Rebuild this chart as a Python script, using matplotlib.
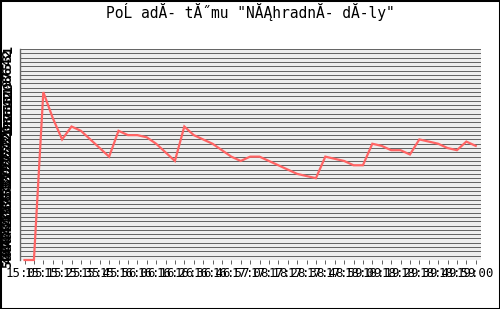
import matplotlib
matplotlib.use("Agg")
import matplotlib.pyplot as plt
from matplotlib.patches import Rectangle

title = 'PoĹ adĂ- tĂ˝mu "NĂĄhradnĂ- dĂ-ly"'

time_labels = ["15:05", "15:15", "15:25", "15:35", "15:45", "15:56", "16:06",
               "16:16", "16:26", "16:36", "16:46", "16:57", "17:08", "17:18",
               "17:28", "17:38", "17:48", "17:59", "18:09", "18:19", "18:29",
               "18:39", "18:49", "18:59", "19:00"]

ranks = [50, 50, 11, 17, 22, 19, 20, 22, 24, 26,
         20, 21, 21, 21.5, 23, 25, 27, 19, 21, 22,
         23, 24.5, 26, 27, 26, 26, 27, 28, 29, 30,
         30.5, 31, 26, 26.5, 27, 28, 28, 23, 23.5, 24.5,
         24.5, 25.5, 22, 22.5, 23, 24, 24.5, 22.5, 23.5]

rank_ticks = list(range(1, 51))

W, H = 500, 309
fig = plt.figure(figsize=(W / 100, H / 100), dpi=100)
fig.patch.set_facecolor("white")

ax = fig.add_axes([20 / W, 1 - 260 / H, 461 / W, 211 / H])
ax.set_facecolor("#eeeeee")

xs = list(range(len(ranks)))
ax.set_xlim(-0.48, 48.56)
ax.set_ylim(50, 1)

# horizontal grid at each rank
ax.set_yticks(rank_ticks)
ax.set_yticklabels([str(r) for r in rank_ticks], rotation=90, fontsize=9.5,
                   family="DejaVu Sans Mono", fontweight="bold", va="center")
ax.yaxis.grid(True, color="#666666", linewidth=0.72, antialiased=False)
ax.tick_params(axis="y", length=0, pad=4)

ax.set_xticks(xs[::2])
ax.set_xticklabels(time_labels, fontsize=8.9, family="DejaVu Sans Mono")
ax.set_xticks(xs[1::2], minor=True)
ax.tick_params(axis="x", which="both", length=3, width=0.72, color="#666666",
               pad=2, direction="out")

for side in ["top", "right"]:
    ax.spines[side].set_visible(False)
ax.spines["bottom"].set_visible(False)
ax.spines["left"].set_color("#666666")
ax.spines["left"].set_linewidth(1.0)
ax.set_axisbelow(True)

ax.plot(xs, ranks, color="#ff6464", linewidth=1.6, clip_on=False,
        solid_joinstyle="miter", zorder=3)

fig.text(0.5, 1 - 12 / H, title, ha="center", va="center", fontsize=10.5,
         family="DejaVu Sans Mono", color="black")

fig.patches.append(Rectangle((0, 0), 1, 1, transform=fig.transFigure,
                             fill=False, edgecolor="black", linewidth=2.2))

fig.savefig("out.png", dpi=100)
